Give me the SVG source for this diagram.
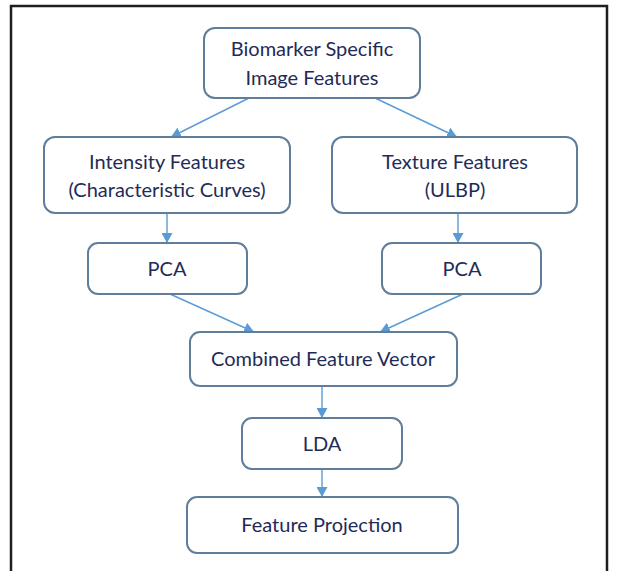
<svg xmlns="http://www.w3.org/2000/svg" width="617" height="571" viewBox="0 0 617 571">
  <style>
    .box { fill: #ffffff; stroke: #5f7e9c; stroke-width: 2; }
    .lbl { font-family: "Lato", "Open Sans", "Liberation Sans", sans-serif; font-size: 20px; fill: #1f2b57; text-anchor: middle; dominant-baseline: central; }
    .link { stroke: #5b9bd5; stroke-width: 1.4; fill: none; marker-end: url(#head); }
  </style>
  <defs>
    <marker id="head" viewBox="0 0 10 11" refX="10" refY="5.5" markerWidth="10" markerHeight="11" markerUnits="userSpaceOnUse" orient="auto">
      <path d="M0,0 L10,5.5 L0,11 Z" fill="#5b9bd5"/>
    </marker>
  </defs>
  <rect width="617" height="571" fill="#ffffff"/>
  <!-- outer frame -->
  <path d="M11,571 V6 H607 V571" fill="none" stroke="#1e1e1e" stroke-width="2.5"/>

  <g id="connectors">
    <line class="link" x1="249" y1="98" x2="171" y2="137"/>
    <line class="link" x1="375" y1="98" x2="457" y2="137"/>
    <line class="link" x1="167" y1="213" x2="167" y2="243"/>
    <line class="link" x1="458" y1="213" x2="458" y2="243"/>
    <line class="link" x1="170" y1="294" x2="254" y2="332"/>
    <line class="link" x1="463" y1="294" x2="380" y2="332"/>
    <line class="link" x1="322" y1="386" x2="322" y2="418"/>
    <line class="link" x1="322" y1="469" x2="322" y2="497"/>
  </g>

  <g id="biomarker">
    <rect class="box" x="204" y="28" width="216" height="70" rx="11"/>
    <text class="lbl" x="312" y="48">Biomarker Specific</text>
    <text class="lbl" x="312" y="77">Image Features</text>
  </g>
  <g id="intensity">
    <rect class="box" x="44" y="137" width="246" height="76" rx="11"/>
    <text class="lbl" x="167" y="161">Intensity Features</text>
    <text class="lbl" x="167" y="189">(Characteristic Curves)</text>
  </g>
  <g id="texture">
    <rect class="box" x="332" y="137" width="245" height="76" rx="11"/>
    <text class="lbl" x="455" y="161">Texture Features</text>
    <text class="lbl" x="455" y="189">(ULBP)</text>
  </g>
  <g id="pca-left">
    <rect class="box" x="88" y="243" width="159" height="51" rx="10"/>
    <text class="lbl" x="167" y="268">PCA</text>
  </g>
  <g id="pca-right">
    <rect class="box" x="382" y="243" width="159" height="51" rx="10"/>
    <text class="lbl" x="462" y="268">PCA</text>
  </g>
  <g id="combined">
    <rect class="box" x="190" y="332" width="267" height="54" rx="10"/>
    <text class="lbl" x="323" y="358">Combined Feature Vector</text>
  </g>
  <g id="lda">
    <rect class="box" x="242" y="418" width="160" height="51" rx="10"/>
    <text class="lbl" x="322" y="443">LDA</text>
  </g>
  <g id="projection">
    <rect class="box" x="187" y="497" width="271" height="56" rx="10"/>
    <text class="lbl" x="322" y="524">Feature Projection</text>
  </g>
</svg>
